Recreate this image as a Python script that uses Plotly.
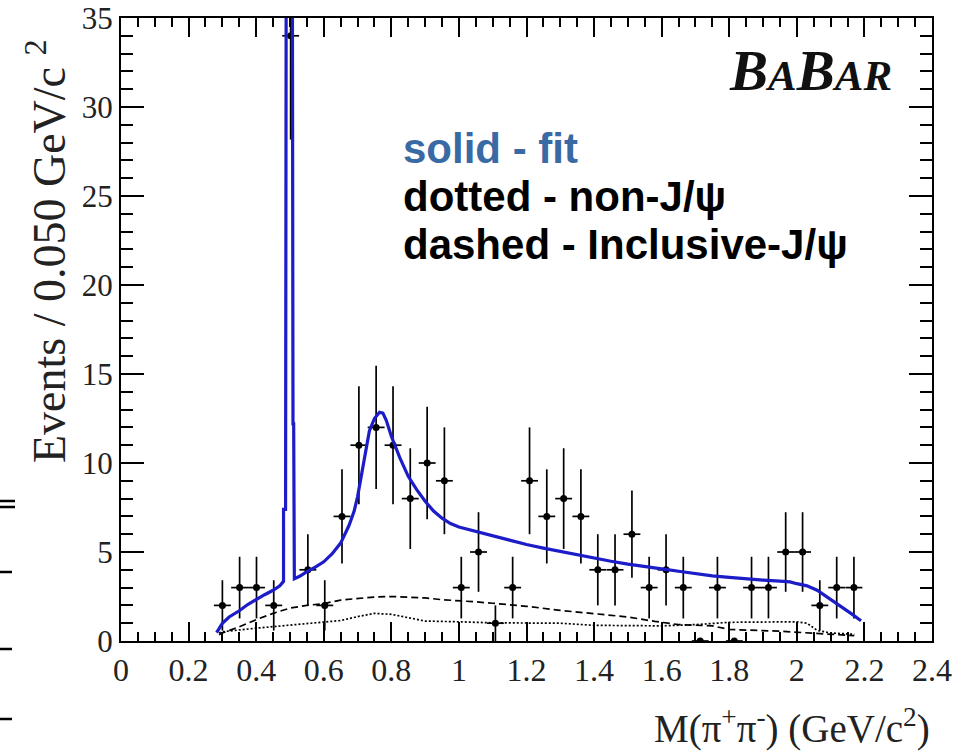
import plotly.graph_objects as go
import numpy as np

# ---- data ----
bin_centers = [0.300, 0.351, 0.401, 0.452, 0.502, 0.553, 0.603, 0.654, 0.704, 0.755,
               0.805, 0.856, 0.906, 0.957, 1.007, 1.058, 1.108, 1.159, 1.209, 1.260,
               1.310, 1.361, 1.411, 1.462, 1.512, 1.563, 1.613, 1.664, 1.714, 1.765,
               1.815, 1.866, 1.916, 1.967, 2.017, 2.068, 2.118, 2.169]
counts = [2, 3, 3, 2, 34, 4, 2, 7, 11, 12,
          11, 8, 10, 9, 3, 5, 1, 3, 9, 7,
          8, 7, 4, 4, 6, 3, 4, 3, 0, 3,
          0, 3, 3, 5, 5, 2, 3, 3]
half_bin = 0.025

fit_x = [0.283, 0.29, 0.30, 0.32, 0.35, 0.375, 0.40, 0.425, 0.45, 0.47, 0.481,
         0.481, 0.487, 0.487, 0.489, 0.489, 0.507, 0.507, 0.509, 0.509, 0.511, 0.511, 0.513,
         0.513, 0.53, 0.55, 0.575, 0.60, 0.625, 0.65, 0.675, 0.69, 0.70, 0.71, 0.72, 0.735,
         0.75, 0.765, 0.775, 0.785, 0.80, 0.825, 0.85, 0.875, 0.90, 0.925, 0.95, 0.975,
         1.00, 1.05, 1.10, 1.15, 1.20, 1.25, 1.30, 1.35, 1.40, 1.45, 1.50, 1.55, 1.60,
         1.65, 1.70, 1.75, 1.80, 1.85, 1.90, 1.95, 1.98, 2.00, 2.03, 2.06, 2.08, 2.10,
         2.13, 2.16, 2.19]
fit_y = [0.47, 0.7, 1.0, 1.35, 1.7, 2.05, 2.35, 2.6, 2.85, 3.1, 3.35,
         7.4, 7.4, 22.5, 22.5, 40.0, 40.0, 28.0, 28.0, 12.2, 12.2, 6.4, 6.4,
         3.5, 3.65, 3.9, 4.15, 4.45, 4.9, 5.5, 6.5, 7.3, 8.1, 9.2, 10.4, 11.8,
         12.5, 12.85, 12.8, 12.4, 11.5, 10.3, 9.25, 8.5, 7.85, 7.3, 6.9, 6.6,
         6.4, 6.15, 5.9, 5.65, 5.42, 5.22, 5.03, 4.85, 4.66, 4.48, 4.32, 4.17, 4.05,
         3.92, 3.78, 3.66, 3.57, 3.48, 3.42, 3.36, 3.32, 3.22, 3.1, 2.85, 2.6, 2.3,
         1.95, 1.55, 1.14]

incl_x = [0.29, 0.30, 0.35, 0.40, 0.45, 0.50, 0.55, 0.60, 0.65, 0.70, 0.75, 0.80,
          0.85, 0.90, 0.95, 1.00, 1.05, 1.10, 1.20, 1.30, 1.40, 1.50, 1.58, 1.65,
          1.75, 1.80, 1.95, 2.05, 2.10, 2.17]
incl_y = [0.35, 0.45, 0.8, 1.2, 1.55, 1.85, 2.0, 2.1, 2.3, 2.4, 2.47, 2.5,
          2.47, 2.42, 2.32, 2.27, 2.2, 2.12, 1.95, 1.72, 1.55, 1.35, 1.1, 0.92,
          0.85, 0.65, 0.55, 0.45, 0.38, 0.3]

nonj_x = [0.29, 0.30, 0.40, 0.50, 0.60, 0.65, 0.70, 0.75, 0.80, 0.85, 0.90, 1.00,
          1.10, 1.30, 1.40, 1.60, 1.70, 1.80, 2.00, 2.03, 2.06, 2.10, 2.17]
nonj_y = [0.45, 0.52, 0.72, 0.9, 1.05, 1.15, 1.37, 1.55, 1.5, 1.3, 1.12, 1.08,
          1.02, 1.0, 0.88, 0.85, 0.92, 1.05, 1.08, 1.0, 0.6, 0.45, 0.38]

x_tickvals = [0, 0.2, 0.4, 0.6, 0.8, 1.0, 1.2, 1.4, 1.6, 1.8, 2.0, 2.2, 2.4]
x_ticktext = ["0", "0.2", "0.4", "0.6", "0.8", "1", "1.2", "1.4", "1.6", "1.8", "2", "2.2", "2.4"]
y_tickvals = [0, 5, 10, 15, 20, 25, 30, 35]

# ---- layout geometry (pixels) ----
W, H = 967, 756
L, R, T, B = 121, 35, 18, 115
pw, ph = W - L - R, H - T - B

def px(xp):
    return (xp - L) / pw

def py(yp):
    return (H - B - yp) / ph

serif = "Liberation Serif, Times New Roman, serif"
sans = "Liberation Sans, Arial, sans-serif"

fig = go.Figure()

fig.add_trace(go.Scatter(x=nonj_x, y=nonj_y, mode="lines",
                         line=dict(color="black", width=1.7, dash="2px,2px"),
                         showlegend=False, hoverinfo="skip"))
fig.add_trace(go.Scatter(x=incl_x, y=incl_y, mode="lines",
                         line=dict(color="black", width=1.7, dash="7px,4px"),
                         showlegend=False, hoverinfo="skip"))

errs = [float(np.sqrt(c)) for c in counts]
fig.add_trace(go.Scatter(x=bin_centers, y=counts, mode="markers",
                         marker=dict(color="black", size=7),
                         error_y=dict(type="data", array=errs, visible=True,
                                      color="black", thickness=1.7, width=0),
                         error_x=dict(type="constant", value=half_bin, visible=True,
                                      color="black", thickness=1.7, width=0),
                         showlegend=False, cliponaxis=True))

fig.add_trace(go.Scatter(x=fit_x, y=fit_y, mode="lines",
                         line=dict(color="#1c1cc8", width=3.2),
                         showlegend=False, hoverinfo="skip"))

axis_common = dict(showline=True, linecolor="black", linewidth=2, mirror="ticks",
                   ticks="inside", tickcolor="black", tickwidth=1.6,
                   showgrid=False, zeroline=False, automargin=False)

fig.update_xaxes(range=[0, 2.4], tickvals=x_tickvals, ticktext=x_ticktext, ticklen=19,
                 minor=dict(dtick=0.05, tick0=0, ticks="inside", ticklen=9,
                            tickcolor="black", tickwidth=1.6, showgrid=False),
                 tickfont=dict(family=serif, size=32, color="#222"),
                 **axis_common)
fig.update_yaxes(range=[0, 35], tickvals=y_tickvals, ticklen=23,
                 minor=dict(dtick=1, tick0=0, ticks="inside", ticklen=12,
                            tickcolor="black", tickwidth=1.6, showgrid=False),
                 tickfont=dict(family=serif, size=31, color="#222"),
                 **axis_common)

annotations = [
    dict(text="Events / 0.050 GeV/c <sup>2</sup>", textangle=-90,
         x=px(46), y=py(251), xref="paper", yref="paper",
         xanchor="center", yanchor="middle", showarrow=False,
         font=dict(family=serif, size=46, color="#222")),
    dict(text="M(π<sup>+</sup>π<sup>-</sup>) (GeV/c<sup>2</sup>)",
         x=px(932), y=py(726), xref="paper", yref="paper",
         xanchor="right", yanchor="middle", showarrow=False,
         font=dict(family=serif, size=39, color="#222")),
    dict(text="<b>solid - fit</b>", x=px(401), y=py(148), xref="paper", yref="paper",
         xanchor="left", yanchor="middle", showarrow=False,
         font=dict(family=sans, size=42, color="#3a6aa4")),
    dict(text="<b>dotted - non-J/ψ</b>", x=px(401), y=py(197), xref="paper", yref="paper",
         xanchor="left", yanchor="middle", showarrow=False,
         font=dict(family=sans, size=42, color="black")),
    dict(text="<b>dashed - Inclusive-J/ψ</b>", x=px(401), y=py(245), xref="paper", yref="paper",
         xanchor="left", yanchor="middle", showarrow=False,
         font=dict(family=sans, size=42, color="black")),
    dict(text="<b><i>B<span style='font-size:43px'>A</span>B<span style='font-size:43px'>AR</span></i></b>",
         x=px(894), y=py(70), xref="paper", yref="paper",
         xanchor="right", yanchor="middle", showarrow=False,
         font=dict(family=serif, size=57, color="#111")),
]

shapes = []
for (x0, x1, yy, lw) in [(0, 15, 501, 2.5), (0, 15, 507, 2.5), (0, 12, 572, 2.5),
                         (0, 12, 649, 2.5), (0, 12, 719, 2.5)]:
    shapes.append(dict(type="line", xref="paper", yref="paper",
                       x0=px(x0), x1=px(x1), y0=py(yy), y1=py(yy),
                       line=dict(color="black", width=lw)))

fig.update_layout(width=W, height=H, margin=dict(l=L, r=R, t=T, b=B, autoexpand=False),
                  paper_bgcolor="white", plot_bgcolor="white",
                  annotations=annotations, shapes=shapes, showlegend=False)

fig.write_html("out.html")
